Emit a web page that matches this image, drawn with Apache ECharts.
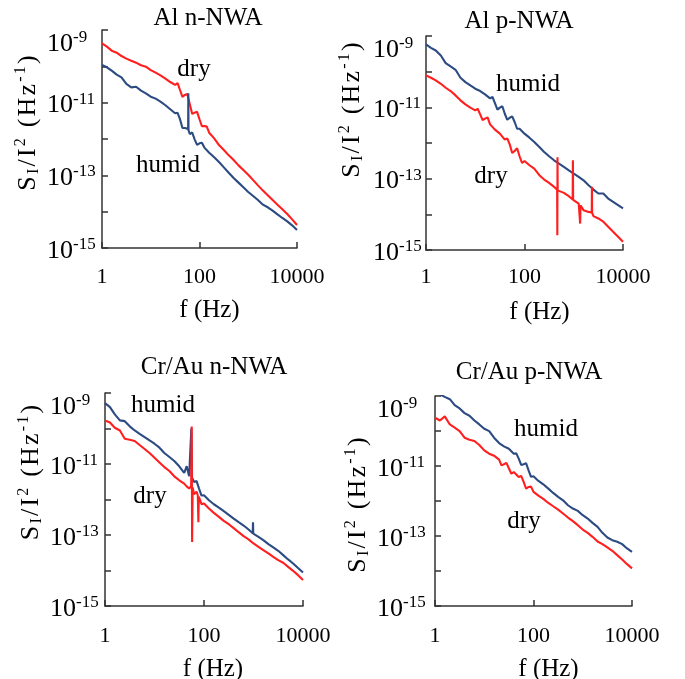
<!DOCTYPE html>
<html><head><meta charset="utf-8">
<script src="https://cdn.jsdelivr.net/npm/echarts@6/dist/echarts.min.js"></script>
<style>html,body{margin:0;padding:0;background:#fff;}#chart{width:685px;height:679px;}</style>
</head><body><div id="chart"></div>
<script>
// ---------------- DATA ----------------
const titles = ['Al n-NWA', 'Al p-NWA', 'Cr/Au n-NWA', 'Cr/Au p-NWA'];
const xTickLabels = ['1', '100', '10000'];
const yLabelExponents = [-15, -13, -11, -9];

// frequency grid (Hz)
const freq = [1,1.26,1.58,2,2.51,3.16,3.98,5.01,6.31,7.94,10,12.6,15.8,20,25.1,31.6,39.8,50.1,63.1,79.4,100,126,158,200,251,316,398,501,631,794,1000,1260,1580,2000,2510,3160,3980,5010,6310,7940,10000];

// Al n-NWA
const alN_dry = [4.30e-10,3.48e-10,2.70e-10,2.38e-10,1.92e-10,1.63e-10,1.43e-10,1.26e-10,1.07e-10,9.8e-11,7.9e-11,6.7e-11,5.65e-11,4.6e-11,3.7e-11,3.1e-11,2.23e-11,1.63e-11,9.2e-12,5.3e-12,3.5e-12,2.28e-12,1.49e-12,1.04e-12,6.8e-13,5.0e-13,3.55e-13,2.64e-13,1.88e-13,1.40e-13,1.04e-13,7.4e-14,5.3e-14,3.8e-14,2.82e-14,2.09e-14,1.56e-14,1.16e-14,8.6e-15,6.15e-15,4.3e-15];
const alN_dry_extra = [[35.5,3.47e-11],[44.7,1.45e-11],[56.2,1.74e-11],[70.8,4.9e-12],[89.1,5.6e-12],[112,2.24e-12],[141,2.19e-12]];
const alN_humid = [1.09e-10,9.4e-11,7.6e-11,5.9e-11,4.98e-11,3.27e-11,2.64e-11,2.75e-11,2.14e-11,1.81e-11,1.46e-11,1.29e-11,1.07e-11,8.5e-12,6.6e-12,5.1e-12,3.5e-12,2.01e-12,1.37e-12,9.8e-13,7.6e-13,5.8e-13,4.2e-13,3.13e-13,2.33e-13,1.66e-13,1.18e-13,8.45e-14,6.3e-14,4.68e-14,3.48e-14,2.7e-14,2.09e-14,1.56e-14,1.32e-14,1.07e-14,8.45e-15,6.7e-15,5.4e-15,4.2e-15,3.13e-15];
const alN_humid_extra = [[35.5,5.25e-12],[44.7,2.0e-12],[58.5,1.9e-12],[59,1.81e-11],[59.5,1.75e-12],[70.8,1.51e-12],[89.1,6.9e-13],[112,7.9e-13]];

// Al p-NWA
const alP_humid = [5.78e-10,4.67e-10,3.93e-10,2.84e-10,1.74e-10,1.40e-10,1.13e-10,6.75e-11,5.1e-11,4.12e-11,3.33e-11,2.86e-11,2.31e-11,1.78e-11,1.32e-11,9.8e-12,6.6e-12,5.1e-12,3.88e-12,2.52e-12,1.83e-12,1.41e-12,1.07e-12,7.7e-13,5.6e-13,4.25e-13,3.28e-13,2.65e-13,2.13e-13,1.72e-13,1.39e-13,1.12e-13,9.0e-14,6.55e-14,4.95e-14,3.83e-14,3.83e-14,2.77e-14,2.24e-14,1.81e-14,1.46e-14];
const alP_humid_extra = [[22.4,1.95e-11],[28.2,8.6e-12],[35.5,1.07e-11],[44.7,4.47e-12],[56.2,5.6e-12],[70.8,2.51e-12]];
const alP_dry = [7.85e-11,6.75e-11,5.7e-11,4.58e-11,3.54e-11,2.86e-11,2.16e-11,1.57e-11,1.21e-11,9.8e-12,8.2e-12,6.35e-12,4.81e-12,3.33e-12,2.37e-12,1.83e-12,1.24e-12,9.2e-13,5.98e-13,4.25e-13,3.14e-13,2.38e-13,1.91e-13,1.25e-13,9.45e-14,7.6e-14,5.9e-14,4.75e-14,4.0e-14,3.23e-14,2.49e-14,2.01e-14,1.31e-14,1.17e-14,8.9e-15,7.65e-15,6.2e-15,4.48e-15,3.24e-15,2.35e-15,1.70e-15];
const alP_dry_extra = [[11.2,9.1e-12],[14.1,4.37e-12],[17.8,5.25e-12],[44.7,1.35e-12],[56.2,5.25e-13],[70.8,7.1e-13],[89.1,2.75e-13],[460,4.9e-14],[464,2.6e-15],[468,4.0e-13],[472,4.7e-14],[950,2.6e-14],[961,3.3e-13],[972,2.55e-14],[1330,1.9e-14],[1350,5.5e-15],[1370,1.8e-14],[2320,1.12e-14],[2340,5.9e-14],[2360,1.1e-14]];

// Cr/Au n-NWA
const crN_humid = [5.18e-10,4.0e-10,2.49e-10,1.69e-10,1.61e-10,1.15e-10,8.8e-11,7.1e-11,5.74e-11,4.62e-11,3.72e-11,2.88e-11,2.04e-11,1.57e-11,1.21e-11,8.6e-12,5.58e-12,4.5e-12,3.12e-12,2.03e-12,1.32e-12,9.5e-13,7.35e-13,5.93e-13,4.68e-13,3.69e-13,2.91e-13,2.30e-13,1.85e-13,1.43e-13,1.10e-13,8.9e-14,7.2e-14,5.52e-14,4.46e-14,3.59e-14,2.71e-14,2.05e-14,1.58e-14,1.17e-14,8.8e-15];
const crN_humid_extra = [[44.7,8.7e-12],[54,4.4e-12],[55.5,1.0e-10],[57,4.2e-12],[70.8,3.3e-12],[89.1,1.29e-12],[965,1.12e-13],[977,2.3e-13],[990,1.1e-13]];
const crN_dry = [1.69e-10,1.48e-10,1.05e-10,8.8e-11,5.15e-11,4.83e-11,4.43e-11,3.42e-11,2.64e-11,2.04e-11,1.51e-11,1.11e-11,8.2e-12,6.35e-12,4.5e-12,3.48e-12,2.8e-12,2.03e-12,1.41e-12,1.13e-12,7.7e-13,5.56e-13,4.2e-13,3.24e-13,2.5e-13,2.01e-13,1.56e-13,1.20e-13,9.3e-14,7.5e-14,5.77e-14,4.65e-14,3.75e-14,3.02e-14,2.43e-14,1.96e-14,1.65e-14,1.27e-14,9.8e-15,7.4e-15,5.4e-15];
const crN_dry_extra = [[44.7,2.34e-12],[55,2.4e-12],[56.5,1.14e-10],[57.5,6.4e-14],[59,2.2e-12],[70.8,1.66e-12],[75,1.3e-12],[77,2.3e-13],[78.5,1.2e-12],[89.1,7.4e-13]];

// Cr/Au p-NWA
const crP_humid = [1.25e-9,1.1e-9,9.46e-10,8.1e-10,5.48e-10,4.4e-10,3.24e-10,2.72e-10,2.0e-10,1.54e-10,1.16e-10,9.95e-11,6.43e-11,4.53e-11,3.64e-11,3.12e-11,2.25e-11,1.62e-11,1.12e-11,7.5e-12,5.07e-12,3.73e-12,3.0e-12,2.26e-12,1.7e-12,1.31e-12,1.05e-12,7.56e-13,6.08e-13,5.21e-13,3.93e-13,3.15e-13,2.37e-13,1.82e-13,1.23e-13,9.06e-14,7.6e-14,6.82e-14,5.85e-14,4.4e-14,3.54e-14];
const crP_humid_extra = [[44.7,2.29e-11],[56.2,1.07e-11],[70.8,1.2e-11],[89.1,4.9e-12]];
const crP_dry = [2.39e-10,2.0e-10,2.61e-10,1.54e-10,1.24e-10,9.95e-11,6.43e-11,5.64e-11,5.16e-11,3.97e-11,2.8e-11,2.25e-11,1.97e-11,1.52e-11,1.12e-11,8.6e-12,6.75e-12,4.85e-12,3.5e-12,2.52e-12,1.82e-12,1.43e-12,1.15e-12,8.8e-13,7.08e-13,5.69e-13,4.38e-13,3.37e-13,2.65e-13,2.04e-13,1.53e-13,1.23e-13,9.46e-14,6.97e-14,5.85e-14,4.7e-14,3.78e-14,2.84e-14,2.14e-14,1.57e-14,1.19e-14];
const crP_dry_extra = [[22.4,1.04e-11],[28.2,1.23e-11],[35.5,6.0e-12],[56.2,5.2e-12],[70.8,2.24e-12],[89.1,2.57e-12]];

// ---------------- CHART ----------------
const FONT = 'Liberation Serif';
const RED = '#ff1f1f', BLUE = '#2b4b82', AXIS = '#333333';

function buildSeries(f, vals, extra) {
  return f.map((x, i) => [x, vals[i]]).concat(extra).sort((a, b) => a[0] - b[0]);
}

const panels = [
  { dry: buildSeries(freq, alN_dry, alN_dry_extra), humid: buildSeries(freq, alN_humid, alN_humid_extra), blueTop: true },
  { dry: buildSeries(freq, alP_dry, alP_dry_extra), humid: buildSeries(freq, alP_humid, alP_humid_extra), blueTop: false },
  { dry: buildSeries(freq, crN_dry, crN_dry_extra), humid: buildSeries(freq, crN_humid, crN_humid_extra), blueTop: false },
  { dry: buildSeries(freq, crP_dry, crP_dry_extra), humid: buildSeries(freq, crP_humid, crP_humid_extra), blueTop: false }
];

const layout = [
  { grid: {left:102, top:30, width:195, height:218}, yLM:55, xLM:18, yNG:53, yNS:16, xNG:50, xNS:10, title:[208,18], dry:[194,69], humid:[168,165] },
  { grid: {left:426, top:36, width:197, height:214}, yLM:53, xLM:16, yNG:59, yNS:33, xNG:50, xNS:15, title:[519,21], dry:[491,176], humid:[528,84] },
  { grid: {left:105, top:393, width:198, height:213}, yLM:55, xLM:19, yNG:55, yNS:27, xNG:51, xNS:9, title:[214,367], dry:[150,496], humid:[163,405] },
  { grid: {left:435, top:396, width:197, height:210}, yLM:58, xLM:19, yNG:51, yNS:-4, xNG:51, xNS:15, title:[529,372], dry:[524,521], humid:[546,429] }
];

const yRich = {
  b:  { fontFamily: FONT, fontSize: 26, lineHeight: 30, color: '#000', padding: [6, 0, 0, 0] },
  s:  { fontFamily: FONT, fontSize: 17, lineHeight: 30, color: '#000', padding: [0, 0, 7, 0] },
  bt: { fontFamily: FONT, fontSize: 26, lineHeight: 30, color: '#000', padding: [28, 0, 0, 0] },
  st: { fontFamily: FONT, fontSize: 17, lineHeight: 30, color: '#000', padding: [15, 0, 0, 0] }
};
const SP = 1.1;
const nameRich = {
  b:   { fontFamily: FONT, fontSize: 26, lineHeight: 30, color: '#000', padding: [0, SP, 0, SP] },
  sub: { fontFamily: FONT, fontSize: 16, lineHeight: 30, color: '#000', padding: [12, SP, 0, SP] },
  sup: { fontFamily: FONT, fontSize: 16, lineHeight: 30, color: '#000', padding: [0, SP, 14, SP] }
};
const yName = '{b|S}{sub|I}{b|/}{b|I}{sup|2}{b| }{b|(}{b|H}{b|z}{sup|-}{sup|1}{b|)}';

const option = { animation: false, grid: [], xAxis: [], yAxis: [], series: [], graphic: [] };

panels.forEach((p, i) => {
  const L = layout[i];
  option.grid.push(Object.assign({ containLabel: false, outerBoundsMode: 'none' }, L.grid));
  option.xAxis.push({
    type: 'log', logBase: 100, min: 1, max: 10000, splitNumber: 2, gridIndex: i,
    axisLine: { show: true, lineStyle: { color: AXIS, width: 1.5 } },
    axisTick: { show: true, inside: true, length: 6, lineStyle: { color: AXIS, width: 1.5 } },
    splitLine: { show: false }, minorTick: { show: false },
    axisLabel: {
      margin: L.xLM, fontFamily: FONT, fontSize: 22, color: '#000', showMinLabel: true, showMaxLabel: true,
      formatter: v => { const k = Math.round(Math.log(v) / Math.log(100)); return xTickLabels[k] || ''; }
    },
    name: 'f (Hz)', nameLocation: 'middle', nameGap: L.xNG,
    nameTextStyle: { fontFamily: FONT, fontSize: 25, color: '#000', padding: [0, 0, 0, 2 * L.xNS] }
  });
  option.yAxis.push({
    type: 'log', logBase: 10, min: 1e-15, max: 1e-9, splitNumber: 6, gridIndex: i,
    axisLine: { show: true, lineStyle: { color: AXIS, width: 1.5 } },
    axisTick: { show: true, inside: true, length: 6, lineStyle: { color: AXIS, width: 1.5 } },
    splitLine: { show: false }, minorTick: { show: false },
    axisLabel: {
      align: 'left', margin: L.yLM, showMinLabel: true, showMaxLabel: true,
      formatter: v => {
        const e = Math.round(Math.log10(v));
        if (yLabelExponents.indexOf(e) < 0) return '';
        return e === -9 ? '{bt|10}{st|' + e + '}' : '{b|10}{s|' + e + '}';
      },
      rich: yRich
    },
    name: yName,
    nameLocation: 'middle', nameGap: L.yNG, nameRotate: 90,
    nameTextStyle: { rich: nameRich, padding: L.yNS >= 0 ? [0, 0, 0, 2 * L.yNS] : [0, -2 * L.yNS, 0, 0] }
  });
  const humid = { type: 'line', name: 'humid', xAxisIndex: i, yAxisIndex: i, data: p.humid, symbol: 'none', showSymbol: false,
    lineStyle: { color: BLUE, width: 2.1 }, z: p.blueTop ? 4 : 2, silent: true };
  const dry = { type: 'line', name: 'dry', xAxisIndex: i, yAxisIndex: i, data: p.dry, symbol: 'none', showSymbol: false,
    lineStyle: { color: RED, width: 2.1 }, z: 3, silent: true };
  option.series.push(humid, dry);

  const txt = (t, pos) => ({ type: 'text', x: pos[0], y: pos[1], z: 10, silent: true,
    style: { text: t, font: '25px ' + FONT, fill: '#000', align: 'center', verticalAlign: 'middle', textAlign: 'center', textVerticalAlign: 'middle' } });
  option.graphic.push(txt(titles[i], L.title), txt('dry', L.dry), txt('humid', L.humid));
});

const chart = echarts.init(document.getElementById('chart'));
chart.setOption(option);
</script>
</body></html>
